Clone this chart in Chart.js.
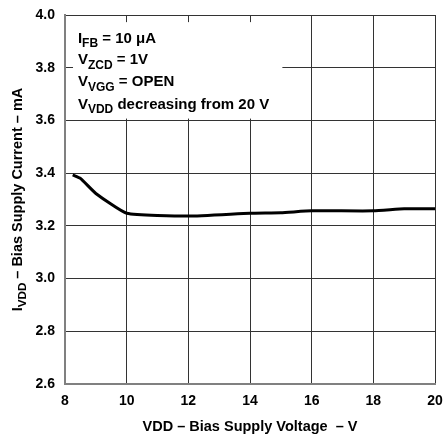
<!DOCTYPE html>
<html><head><meta charset="utf-8">
<script src="https://cdn.jsdelivr.net/npm/chart.js@4"></script>
<style>html,body{margin:0;padding:0;background:#fff}canvas{display:block}</style>
</head><body>
<canvas id="c" width="444" height="439"></canvas>
<script>
const vddVolts = [8.25, 8.5, 9, 10, 12, 14, 15, 16, 18, 19, 20];
const biasCurrent = [3.393, 3.38, 3.323, 3.248, 3.237, 3.248, 3.25, 3.257, 3.257, 3.265, 3.265];
const xTicks = [8, 10, 12, 14, 16, 18, 20];
const yTicks = [2.6, 2.8, 3.0, 3.2, 3.4, 3.6, 3.8, 4.0];
const xTitle = 'VDD – Bias Supply Voltage  – V';
const yTitleParts = [['I', ''], ['VDD', 'sub'], [' – Bias Supply Current – mA', '']];
const noteLines = [
  [['I', ''], ['FB', 'sub'], [' = 10 μA', '']],
  [['V', ''], ['ZCD', 'sub'], [' = 1V', '']],
  [['V', ''], ['VGG', 'sub'], [' = OPEN', '']],
  [['V', ''], ['VDD', 'sub'], [' decreasing from 20 V', '']]
];

const FONT = "'Liberation Sans', Arial, sans-serif";

function drawParts(ctx, parts, x, y, size) {
  let cx = x;
  for (const [t, kind] of parts) {
    const s = kind === 'sub' ? size * 0.8 : size;
    ctx.font = 'bold ' + s + 'px ' + FONT;
    ctx.fillText(t, cx, kind === 'sub' ? y + size * 0.3 : y);
    cx += ctx.measureText(t).width;
  }
  return cx - x;
}
function partsWidth(ctx, parts, size) {
  let w = 0;
  for (const [t, kind] of parts) {
    const s = kind === 'sub' ? size * 0.8 : size;
    ctx.font = 'bold ' + s + 'px ' + FONT;
    w += ctx.measureText(t).width;
  }
  return w;
}

const overlay = {
  id: 'overlay',
  beforeDatasetsDraw(chart) {
    const ctx = chart.ctx, xs = chart.scales.x, ys = chart.scales.y;
    ctx.save();
    const bx0 = xs.getPixelForValue(8.26), bx1 = xs.getPixelForValue(15.05);
    const by0 = ys.getPixelForValue(3.973), by1 = ys.getPixelForValue(3.607);
    ctx.fillStyle = '#fff';
    ctx.fillRect(bx0, by0, bx1 - bx0, by1 - by0);
    ctx.restore();
  },
  afterDraw(chart) {
    const ctx = chart.ctx, xs = chart.scales.x, ys = chart.scales.y;
    ctx.save();
    ctx.fillStyle = '#000';
    ctx.textBaseline = 'alphabetic';
    ctx.textAlign = 'left';
    const tx = xs.getPixelForValue(8.42);
    const baseY = [42.5, 64, 86, 108.5];
    noteLines.forEach((ln, i) => drawParts(ctx, ln, tx, baseY[i], 15));
    ctx.font = 'bold 14.5px ' + FONT;
    ctx.textAlign = 'center';
    ctx.fillText(xTitle, (xs.left + xs.right) / 2, 431);
    ctx.translate(22, (ys.top + ys.bottom) / 2);
    ctx.rotate(-Math.PI / 2);
    ctx.textAlign = 'left';
    const w = partsWidth(ctx, yTitleParts, 14.5);
    drawParts(ctx, yTitleParts, -w / 2, 0, 14.5);
    ctx.restore();
  }
};

new Chart(document.getElementById('c'), {
  type: 'line',
  data: {
    datasets: [{
      data: vddVolts.map((v, i) => ({ x: v, y: biasCurrent[i] })),
      borderColor: '#000',
      borderWidth: 3,
      pointRadius: 0,
      tension: 0.15,
      fill: false
    }]
  },
  options: {
    responsive: false,
    animation: false,
    devicePixelRatio: 1,
    layout: { padding: { left: 0, top: 15, right: 9, bottom: 0 } },
    plugins: { legend: { display: false }, tooltip: { enabled: false } },
    scales: {
      x: {
        type: 'linear', min: 8, max: 20,
        afterBuildTicks: s => { s.ticks = xTicks.map(v => ({ value: v })); },
        afterFit: s => { s.height = 55; s.paddingLeft = 0; s.paddingRight = 0; },
        grid: { color: '#333', lineWidth: 1, drawTicks: false },
        border: { color: '#808080', width: 2 },
        ticks: { color: '#000', padding: 9, font: { family: FONT, size: 14, weight: 'bold' }, callback: v => String(v), maxRotation: 0 }
      },
      y: {
        type: 'linear', min: 2.6, max: 4.0,
        afterBuildTicks: s => { s.ticks = yTicks.map(v => ({ value: v })); },
        afterFit: s => { s.width = 65; s.paddingTop = 0; s.paddingBottom = 0; },
        grid: { color: '#333', lineWidth: 1, drawTicks: false },
        border: { color: '#808080', width: 2 },
        ticks: { color: '#000', padding: 10, font: { family: FONT, size: 14, weight: 'bold' }, callback: v => v.toFixed(1) }
      }
    }
  },
  plugins: [overlay]
});
</script>
</body></html>
